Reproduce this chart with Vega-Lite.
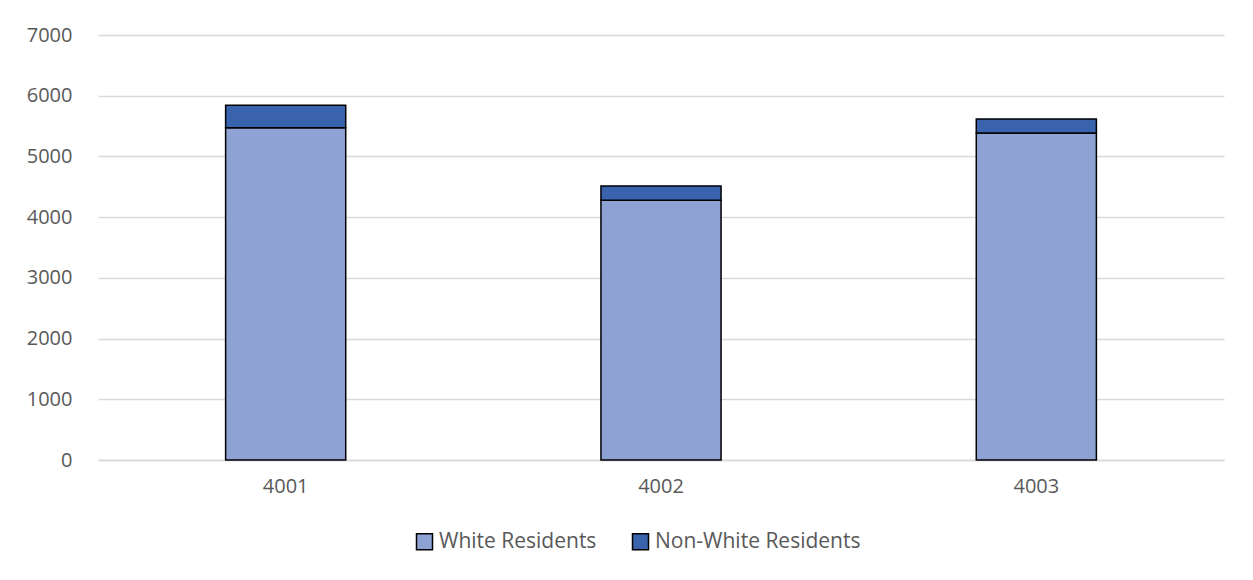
{
  "$schema": "https://vega.github.io/schema/vega-lite/v6.json",
  "width": 1126,
  "height": 425,
  "autosize": "none",
  "padding": {"left": 98, "top": 35, "right": 29, "bottom": 120},
  "background": "white",
  "config": {
    "font": "Open Sans",
    "view": {"stroke": null},
    "axis": {"labelFont": "Open Sans", "labelColor": "#595959", "labelFontSize": 20}
  },
  "data": {
    "values": [
      {"zip": "4001", "group": "White Residents", "value": 5473, "ord": 1},
      {"zip": "4001", "group": "Non-White Residents", "value": 369, "ord": 2},
      {"zip": "4002", "group": "White Residents", "value": 4277, "ord": 1},
      {"zip": "4002", "group": "Non-White Residents", "value": 236, "ord": 2},
      {"zip": "4003", "group": "White Residents", "value": 5386, "ord": 1},
      {"zip": "4003", "group": "Non-White Residents", "value": 231, "ord": 2}
    ]
  },
  "mark": {"type": "bar", "stroke": "black", "strokeWidth": 1.5},
  "encoding": {
    "x": {
      "field": "zip", "type": "nominal", "title": null,
      "scale": {"paddingInner": 0.68, "paddingOuter": 0.34},
      "axis": {"labelAngle": 0, "ticks": false, "domainColor": "#D9D9D9", "domainWidth": 1.5, "labelPadding": 16}
    },
    "y": {
      "field": "value", "type": "quantitative", "stack": "zero", "title": null,
      "scale": {"domain": [0, 7000], "nice": false},
      "axis": {"values": [0,1000,2000,3000,4000,5000,6000,7000], "format": "d", "domain": false, "ticks": false, "gridColor": "#D9D9D9", "gridWidth": 1.3, "labelPadding": 26}
    },
    "color": {
      "field": "group", "type": "nominal",
      "scale": {"domain": ["White Residents", "Non-White Residents"], "range": ["#8FA2D4", "#3A63AE"]},
      "legend": {
        "title": null, "orient": "none", "direction": "horizontal",
        "legendX": 316, "legendY": 496,
        "symbolType": "square", "symbolSize": 256, "symbolStrokeColor": "black", "symbolStrokeWidth": 1.5,
        "labelFontSize": 21, "labelColor": "#595959", "labelFont": "Open Sans", "labelLimit": 400,
        "columnPadding": 32, "labelOffset": 4
      }
    },
    "order": {"field": "ord", "type": "quantitative"}
  }
}
